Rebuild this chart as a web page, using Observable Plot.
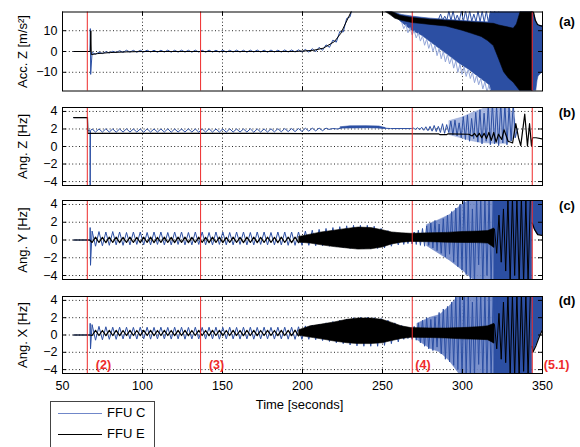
<!DOCTYPE html>
<html>
<head>
<meta charset="utf-8">
<script src="https://cdn.jsdelivr.net/npm/d3@7"></script>
<script src="https://cdn.jsdelivr.net/npm/@observablehq/plot@0.6"></script>
<style>
  body { margin: 0; background: #fff; }
  #chart { position: relative; width: 580px; height: 447px; overflow: hidden; background: #fff;
           font-family: "Liberation Sans", Arial, sans-serif; }
  #chart svg { position: absolute; left: 0; }
  .legend { position: absolute; left: 50px; top: 401px; width: 103px; height: 60px;
            border: 1px solid #444; background: #fff; font-size: 13px; }
  .legend .sw { position: absolute; left: 7px; width: 44px; height: 0; border-top: 1.2px solid; }
  .legend .lb { position: absolute; left: 56px; line-height: 14px; }
</style>
</head>
<body>
<div id="chart"></div>
<script>
// ---------- shared axes ----------
const timeTicks = [50, 100, 150, 200, 250, 300, 350];
const accTicks = [-10, 0, 10];
const angTicks = [-4, -2, 0, 2, 4];
const seriesNames = ["FFU C", "FFU E"];

// phase markers
const eventTimes = [65.5, 136.3, 268.6, 343.6];
const eventLabels = ["(2)", "(3)", "(4)", "(5.1)"];
const eventLabelTimes = [70.8, 141.5, 270.5, 350.8];

// sampling of the oscillation extrema (seconds)
const T1 = 68.5, H1 = 2.15;   // slow oscillation
const T2 = 263.3, H2 = 1.3;   // faster, growing oscillation

// ---------- (a) Acc. Z ----------
const accZ_E_line = [[57,0],[67.4,0],[67.7,10],[68,-1.5],[72,-1],[80,-0.5],[90,-0.2],[100,0],[195,0],[200,0.2],[207,0.6],[213,1.6],[220,4.8],[224,8.8],[227,13.7],[230,18.5],[232,22]];
const accZ_E_bandT  = [252,255,258,261,265,268.6,275,280,290,300,306,312,316,319.6,323,326,329,332,334,336.5,343.6];
const accZ_E_bandHi = [21,19.5,18.3,17.2,16.6,16.1,15.6,15.3,14.8,14.3,14.0,13.7,13.5,13.3,12.5,12.0,11.5,11.0,13,19.5,19.5];
const accZ_E_bandLo = [19,17.5,15.8,15.0,14.3,13.7,13.2,12.8,12.0,10,8.5,7,5,2.6,-4,-10,-13,-15,-17,-19.5,-19.5];
const accZ_E_tail = [[343.6,19.5],[344.4,18.8],[345.5,15],[346.9,13],[348.5,12.4],[350,12.2]];

const accZ_C_lead = [[57,0],[67.2,0],[67.4,11],[67.6,-11]];
const accZ_C_wave = [-0.5,-1.3,-0.3,-1.0,-0.1,-0.7,0.1,-0.5,0.4,-0.4,
  0.6,-0.3,0.55,-0.35,0.6,-0.3,0.65,-0.3,0.6,-0.35,
  0.6,-0.3,0.65,-0.35,0.6,-0.3,0.65,-0.3,0.6,-0.35,
  0.65,-0.3,0.6,-0.35,0.65,-0.3,0.6,-0.3,0.65,-0.35,
  0.6,-0.3,0.65,-0.3,0.6,-0.35,0.65,-0.3,0.7,-0.3,
  0.65,-0.35,0.7,-0.3,0.65,-0.3,0.75,-0.25,0.75,-0.25,
  0.8,-0.2,1.0,-0.3,1.35,-0.05,2.0,0.6,3.2,2.0,5.5,4.5,9.6,9.4,15.9,16.7,23.5];
const accZ_C_bandT  = [252,258,262,268.5,275,280.2,285.4,290.6,298.4,303.6,308.8,314,316.6,318,343.6];
const accZ_C_bandLo = [19.5,17,14,10,7.5,4.5,1.5,-1.5,-6,-8.5,-11.5,-14.5,-16,-19.5,-19.5];
const accZ_C_bandHi = [19.5,18.5,17.6,16.8,16.2,15.8,15.5,15.2,14.8,14.5,14.3,14.1,14.0,19.5,19.5];
const accZ_C_spikesUp = [15.5,18,15,17,15,19.5,14.8,19.5,14.8,17.5,14.7,19.5,14.6,19.5,14.5,19.5,14.5,18,14.3,19.5,14.2,19.5,14,19.5,14,19.5,13.8,19.5,13.5,19.5];
const accZ_C_spikesDown = [14,11,13,9,11.5,8,10,6.5,9,5,7.5,3,6,1.5,4.5,0,3,-2,1.5,-3.5,0,-5,-1.5,-6,-3,-8,-4.5,-10,-6,-11,-7.5,-12,-8.5,-13,-10,-15,-11.5,-16,-13,-18,-14.5,-19.5,-16,-19.5];
const accZ_C_tailT  = [343.6,344.4,346,346.9,347.5,350];
const accZ_C_tailLo = [-19.5,-19.5,-19.5,-14,-12,-10];
const accZ_C_tailHi = [19.5,18.8,14.5,13,12.5,12.2];

// ---------- (b) Ang. Z ----------
const angZ_E_line = [[57,3.3],[65.6,3.3],[65.8,1.5],[120,1.5],[200,1.48],[285,1.45],[286,1.35],[290,1.35],[291,1.45],[304,1.4],[306,1.2],[307.5,1.5],[309,1.1],[310.5,1.5],[312,1.0],[313.5,1.5],[315,0.9],[316.5,1.6],[318,0.7],[319.5,1.6],[321,0.5],[322.5,1.4],[324.5,0.8],[326,1.9],[328.5,0.6],[331.3,0.4],[333.3,2.6],[335,1.0],[336.4,0.1],[338.9,3.7],[340.6,0.05],[341.9,2.6],[343.1,0.1],[343.8,1.0],[346,1.0],[350,0.85]];
const angZ_C_lead = [[57,3.3],[65.6,3.3],[65.8,1.8],[67.2,1.8],[67.3,-4.6],[67.5,1.8]];
const angZ_C_wave = [2.0,1.65,2.0,1.65,2.02,1.65,2.0,1.63,2.0,1.65,
  2.02,1.65,2.0,1.65,2.0,1.63,2.02,1.65,2.0,1.65,
  2.0,1.65,2.02,1.63,2.0,1.65,2.0,1.65,2.02,1.65,
  2.0,1.63,2.0,1.65,2.02,1.65,2.0,1.65,2.0,1.63,
  2.02,1.65,2.0,1.65,2.0,1.65,2.02,1.63,2.0,1.65,
  2.0,1.65,2.02,1.67,2.03,1.68,2.05,1.7,2.05,1.7,
  2.05,1.72,2.08,1.75,2.1,1.78,2.1,1.8,2.1];
const angZ_C_mid = [[216.5,1.95],[219,2.05],[222,2.0],[225,2.15],[235,2.2],[245,2.2],[250,2.1],[255,2.05],[268,2.05]];
const angZ_C_midT  = [224,230,240,248,252];
const angZ_C_midLo = [2.05,2.05,2.08,2.05,2.02];
const angZ_C_midHi = [2.2,2.3,2.32,2.28,2.1];
const angZ_C_lateStart = 268;
const angZ_C_late = [2.1,1.95,2.15,1.9,2.2,1.85,2.25,1.8,2.3,1.75,2.4,1.7,2.3,1.6,2.6,1.5,2.5,1.6,2.9,1.3,3.0,1.2,2.7,1.0,3.4,0.8,3.6,0.6,3.2,0.9,3.9,0.5,4.2,0.3,3.8,0.6,4.8,0.2,5,0.3,4.6,0.1,5,0.4,4.8,0.2,4.5,0.6,5,1.0,2.0];
const angZ_C_lightT  = [292,300,306,312,320,328,333];
const angZ_C_lightLo = [1.3,0.9,0.6,0.4,0.3,0.3,1.0];
const angZ_C_lightHi = [2.9,3.3,3.8,4.2,5,5,3];

// ---------- (c) Ang. Y ----------
const angY_E_lead = [[57,0],[67,0]];
const angY_E_wave = [-0.28,0.32,-0.28,0.3,-0.3,0.32,-0.28,0.32,-0.3,0.3,
  -0.28,0.32,-0.28,0.3,-0.3,0.32,-0.28,0.32,-0.3,0.3,
  -0.28,0.32,-0.28,0.3,-0.3,0.32,-0.28,0.32,-0.3,0.3,
  -0.28,0.32,-0.28,0.3,-0.3,0.32,-0.28,0.32,-0.3,0.3,
  -0.28,0.32,-0.28,0.3,-0.3,0.32,-0.28,0.32,-0.3,0.3,
  -0.28,0.32,-0.28,0.3,-0.3,0.32,-0.28,0.32,-0.3,0.32,-0.3];
const angY_E_bandT  = [198,205,212,220,228,235,243,250,256,262,268,280,290,300,310,316,320];
const angY_E_bandHi = [0.35,0.6,0.85,1.05,1.25,1.4,1.35,1.1,0.85,0.75,0.7,0.75,0.8,0.9,0.95,1.0,1.3];
const angY_E_bandLo = [-0.3,-0.4,-0.6,-0.8,-0.95,-1.08,-1.05,-0.85,-0.5,-0.3,-0.22,-0.25,-0.3,-0.33,-0.35,-0.4,-0.9];
const angY_E_lateStart = 320, angY_E_lateStep = 1.4;
const angY_E_late = [1.2,-1.5,2.8,-2.5,3.5,-3.5,4.8,-4.8,4.8,-4.0,4.8,-4.8,4.8,-4.8,4.5,-4.8,4.8];
const angY_E_tail = [[343.6,1.9],[345,1.2],[347,0.6],[350,0.5]];

const angY_C_lead = [[57,0],[67.2,0],[67.3,1.4],[67.5,-2.85]];
const angY_C_wave = [1.0,-0.7,0.95,-0.65,0.9,-0.6,0.95,-0.55,0.9,-0.6,
  0.85,-0.55,0.9,-0.5,0.9,-0.55,0.85,-0.55,0.9,-0.5,
  0.9,-0.55,0.85,-0.55,0.9,-0.5,0.9,-0.55,0.85,-0.55,
  0.9,-0.5,0.9,-0.55,0.85,-0.55,0.9,-0.5,0.9,-0.55,
  0.85,-0.55,0.9,-0.5,0.9,-0.55,0.85,-0.55,0.9,-0.5,
  0.9,-0.55,0.85,-0.55,0.9,-0.55,0.9,-0.6,0.9,-0.6,
  0.9,-0.6,1.0,-0.6,1.1,-0.65,1.2,-0.65,1.3,-0.7,
  1.4,-0.75,1.5,-0.85,1.6,-0.95,1.65,-1.0,1.65,-1.0,
  1.65,-1.0,1.55,-0.95,1.3,-0.9,1.05,-0.7,0.85,-0.55,0.7];
const angY_C_late = [-0.5,0.7,-0.4,0.6,-0.45,0.9,-0.5,1.1,-0.6,1.3,-0.7,1.6,-0.6,1.9,-0.9,2.2,-1.2,1.8,-1.5,2.4,-1.9,2.8,-1.6,3.2,-2.5,3.6,-3.0,4.0,-3.4,4.8,-3.9,4.8,-4.8,3.5,-4.8,4.8,-2.8,4.8,-4.8,4.8,-4.0,4.8,-4.8,4.8,-4.8,4.8];
const angY_C_lightT  = [278,285,292,300,310,322];
const angY_C_lightLo = [-0.7,-1.5,-2.3,-3.4,-5,-5];
const angY_C_lightHi = [1.7,2.2,2.8,4.0,5,5];
const angY_C_fullT = [320,343.6];
const angY_C_tailT  = [343.6,345,347,350];
const angY_C_tailLo = [1.9,1.2,0.6,0.5];

// ---------- (d) Ang. X ----------
const angX_E_lead = [[57,0],[67,0]];
const angX_E_wave = [-0.06,0.54,-0.06,0.52,-0.08,0.54,-0.06,0.54,-0.08,0.52,
  -0.06,0.54,-0.06,0.52,-0.08,0.54,-0.06,0.54,-0.08,0.52,
  -0.06,0.54,-0.06,0.52,-0.08,0.54,-0.06,0.54,-0.08,0.52,
  -0.06,0.54,-0.06,0.52,-0.08,0.54,-0.06,0.54,-0.08,0.52,
  -0.06,0.54,-0.06,0.52,-0.08,0.54,-0.06,0.54,-0.08,0.52,
  -0.06,0.54,-0.06,0.52,-0.08,0.54,-0.06,0.54,-0.08,0.56,-0.1];
const angX_E_bandT  = [198,205,212,220,228,235,243,250,256,262,268,280,290,300,310,316,320];
const angX_E_bandHi = [0.55,1.0,1.2,1.45,1.75,1.9,1.9,1.75,1.4,1.0,0.8,0.75,0.75,0.8,0.9,1.0,1.3];
const angX_E_bandLo = [-0.1,-0.3,-0.5,-0.75,-0.95,-1.05,-1.05,-0.95,-0.7,-0.45,-0.33,-0.35,-0.4,-0.5,-0.55,-0.6,-1.0];
const angX_E_late = [1.2,-1.6,2.5,-2.8,3.8,-3.2,4.8,-4.8,4.6,-4.8,4.8,-4.8,4.8,-4.2,4.8,-4.8,4.8];
const angX_E_tail = [[343.6,-1.3],[344,-2.0],[346,-1.2],[348,-0.2],[350,0.6]];

const angX_C_lead = [[57,0],[67.2,0],[67.3,1.35],[67.5,-1.6]];
const angX_C_wave = [1.2,-0.6,1.0,-0.55,0.95,-0.5,0.9,-0.5,0.9,-0.45,
  0.9,-0.45,0.88,-0.47,0.9,-0.45,0.9,-0.48,0.88,-0.45,
  0.9,-0.45,0.88,-0.47,0.9,-0.45,0.9,-0.48,0.88,-0.45,
  0.9,-0.45,0.88,-0.47,0.9,-0.45,0.9,-0.48,0.88,-0.45,
  0.9,-0.45,0.88,-0.47,0.9,-0.45,0.9,-0.48,0.88,-0.45,
  0.9,-0.45,0.88,-0.47,0.9,-0.45,0.9,-0.48,0.9,-0.5,
  0.95,-0.5,1.05,-0.5,1.15,-0.55,1.25,-0.65,1.4,-0.75,
  1.55,-0.9,1.7,-1.0,1.85,-1.15,2.0,-1.25,2.05,-1.3,
  2.05,-1.3,2.0,-1.3,1.9,-1.2,1.7,-1.0,1.4,-0.8,1.1];
const angX_C_late = [-0.5,0.9,-0.4,0.8,-0.5,1.0,-0.6,1.4,-0.9,1.7,-1.3,2.0,-1.6,1.8,-1.8,2.1,-1.4,2.6,-2.2,3.0,-2.8,3.3,-3.1,3.8,-3.5,4.5,-4.0,4.8,-4.8,4.8,-4.5,4.8,-4.8,3.8,-4.8,4.8,-3.4,4.8,-4.8,4.8,-4.8,4.8,-4.8,4.8,-4.8,4.8];
const angX_C_lightT  = [272,280,286,292,300,322];
const angX_C_lightLo = [-0.6,-1.6,-2.0,-3.0,-5,-5];
const angX_C_lightHi = [1.3,2.0,2.3,3.3,5,5];
const angX_C_fullT = [320,343.6];
const angX_C_tailT  = [343.6,344,346,348,350];
const angX_C_tailLo = [-1.3,-2.0,-1.2,-0.2,0.6];

// ---------- colours ----------
const BLUE = "#2c4fa3", LIGHT = "#93a6d8", MID = "#6d85c6", BLACK = "#000", RED = "#ee2b2b", LEGEND_BLUE = "#7087c9";

// ---------- helpers turning the arrays into rows ----------
const pairs = (arr) => arr.map(([t, v]) => ({t, v}));
const wave = (vals, t0, dt) => vals.map((v, i) => ({t: t0 + i * dt, v}));
const band = (ts, lo, hi) => ts.map((t, i) => ({t, lo: lo[i], hi: Array.isArray(hi) ? hi[i] : hi}));

const line = (data, stroke, w = 1) => Plot.line(data, {x: "t", y: "v", stroke, strokeWidth: w, clip: true});
const area = (data, fill, opacity = 1) => Plot.areaY(data, {x: "t", y1: "lo", y2: "hi", fill, fillOpacity: opacity,
  stroke: fill, strokeOpacity: opacity, strokeWidth: 0.6, clip: true});

const FONT = '"Liberation Sans", Arial, sans-serif';

function panel({top, height, marginTop, marginBottom, yDomain, yTicks, yLabel, tag, tagDy, marks, bottomAxis}) {
  const plotH = height - marginTop - marginBottom;
  const tickStyle = {stroke: "#000", strokeWidth: 1};
  const extra = [];
  if (bottomAxis) {
    extra.push(
      Plot.axisX(timeTicks, {anchor: "bottom", tickSize: 0, tickPadding: 8, fontSize: 12.5, label: null}),
      Plot.text(["Time [seconds]"], {text: d => d, frameAnchor: "bottom", textAnchor: "middle", lineAnchor: "middle",
        dx: -3, dy: 31, fontSize: 13}),
      Plot.text(eventLabels, {x: (d, i) => eventLabelTimes[i], text: d => d, frameAnchor: "bottom", lineAnchor: "middle",
        dy: -9, textAnchor: "start", fill: RED, fontWeight: "bold", fontSize: 12.5})
    );
  }
  const svg = Plot.plot({
    width: 580, height, marginLeft: 62, marginRight: 38, marginTop, marginBottom,
    style: {fontFamily: FONT, fontSize: "12px", background: "transparent", overflow: "visible", color: "#000"},
    x: {domain: [50, 350], axis: null},
    y: {domain: yDomain, axis: null},
    marks: [
      Plot.gridX(timeTicks.slice(1, -1), {stroke: "#000", strokeOpacity: 0.85, strokeDasharray: "1,2.4"}),
      Plot.gridY(yTicks, {stroke: "#000", strokeOpacity: 0.85, strokeDasharray: "1,2.4"}),
      ...marks,
      Plot.ruleX(eventTimes, {stroke: RED, strokeWidth: 1}),
      Plot.tickY(yTicks, {y: d => d, insetRight: 476, ...tickStyle}),
      Plot.tickY(yTicks, {y: d => d, insetLeft: 476, ...tickStyle}),
      Plot.tickX(timeTicks, {x: d => d, insetBottom: plotH - 4, ...tickStyle}),
      Plot.tickX(timeTicks, {x: d => d, insetTop: plotH - 4, ...tickStyle}),
      Plot.frame({stroke: "#000", strokeWidth: 1}),
      Plot.axisY(yTicks, {anchor: "left", tickSize: 0, tickPadding: 5, fontSize: 12.5, label: null}),
      Plot.text([yLabel], {text: d => d, frameAnchor: "left", textAnchor: "middle", lineAnchor: "middle",
        rotate: -90, dx: -40, fontSize: 13}),
      Plot.text([tag], {text: d => d, frameAnchor: "top-right", textAnchor: "middle", lineAnchor: "middle",
        dx: 24.5, dy: tagDy, fontWeight: "bold", fontSize: 13}),
      ...extra
    ]
  });
  svg.style.top = top + "px";
  return svg;
}

const chart = document.getElementById("chart");

// (a) acceleration
chart.appendChild(panel({
  top: 0, height: 95, marginTop: 11.5, marginBottom: 4.5, yDomain: [-19, 19], yTicks: accTicks,
  yLabel: "Acc. Z [m/s²]", tag: "(a)", tagDy: 10,
  marks: [
    area(band(accZ_C_bandT, accZ_C_bandLo, accZ_C_bandHi), BLUE),
    area(band(accZ_C_tailT, accZ_C_tailLo, accZ_C_tailHi), BLUE),
    line(wave(accZ_C_spikesDown, 262, H2), LIGHT),
    line(wave(accZ_C_spikesUp, 285, H2), BLUE),
    line([...pairs(accZ_C_lead), ...wave(accZ_C_wave, T1, H1)], BLUE),
    area(band(accZ_E_bandT, accZ_E_bandLo, accZ_E_bandHi), BLACK),
    line(pairs(accZ_E_line), BLACK, 1),
    line(pairs(accZ_E_tail), BLACK, 1.3)
  ]
}));

// (b) angular rate about Z
chart.appendChild(panel({
  top: 95, height: 95, marginTop: 12, marginBottom: 5, yDomain: [-4.45, 4.45], yTicks: angTicks,
  yLabel: "Ang. Z [Hz]", tag: "(b)", tagDy: 5,
  marks: [
    area(band(angZ_C_lightT, angZ_C_lightLo, angZ_C_lightHi), LIGHT, 0.8),
    area(band(angZ_C_midT, angZ_C_midLo, angZ_C_midHi), BLUE),
    line([...pairs(angZ_C_lead), ...wave(angZ_C_wave, T1, H1), ...pairs(angZ_C_mid),
          ...wave(angZ_C_late, angZ_C_lateStart + H2, H2)], BLUE),
    line(pairs(angZ_E_line), BLACK, 1.2)
  ]
}));

// (c) angular rate about Y
chart.appendChild(panel({
  top: 190, height: 95, marginTop: 10, marginBottom: 6, yDomain: [-4.45, 4.45], yTicks: angTicks,
  yLabel: "Ang. Y [Hz]", tag: "(c)", tagDy: 5,
  marks: [
    area(band(angY_C_lightT, angY_C_lightLo, angY_C_lightHi), MID, 0.9),
    area(band(angY_C_fullT, [-5, -5], [5, 5]), BLUE),
    area(band(angY_C_tailT, angY_C_tailLo, 5), BLUE),
    line([...pairs(angY_C_lead), ...wave(angY_C_wave, T1, H1), ...wave(angY_C_late, T2, H2)], BLUE),
    area(band(angY_E_bandT, angY_E_bandLo, angY_E_bandHi), BLACK),
    line([...pairs(angY_E_lead), ...wave(angY_E_wave, T1, H1)], BLACK, 1.2),
    line(wave(angY_E_late, angY_E_lateStart, angY_E_lateStep), BLACK, 1),
    line(pairs(angY_E_tail), BLACK, 1.2)
  ]
}));

// (d) angular rate about X
chart.appendChild(panel({
  top: 285, height: 162, marginTop: 11, marginBottom: 74, yDomain: [-4.45, 4.45], yTicks: angTicks,
  yLabel: "Ang. X [Hz]", tag: "(d)", tagDy: 4, bottomAxis: true,
  marks: [
    area(band(angX_C_lightT, angX_C_lightLo, angX_C_lightHi), MID, 0.9),
    area(band(angX_C_fullT, [-5, -5], [5, 5]), BLUE),
    area(band(angX_C_tailT, angX_C_tailLo, 5), BLUE),
    line([...pairs(angX_C_lead), ...wave(angX_C_wave, T1, H1), ...wave(angX_C_late, T2, H2)], BLUE),
    area(band(angX_E_bandT, angX_E_bandLo, angX_E_bandHi), BLACK),
    line([...pairs(angX_E_lead), ...wave(angX_E_wave, T1, H1)], BLACK, 1.2),
    line(wave(angX_E_late, angY_E_lateStart, angY_E_lateStep), BLACK, 1),
    line(pairs(angX_E_tail), BLACK, 1.2)
  ]
}));

// legend
const legend = document.createElement("div");
legend.className = "legend";
[LEGEND_BLUE, BLACK].forEach((c, i) => {
  const sw = document.createElement("span");
  sw.className = "sw"; sw.style.borderColor = c; sw.style.top = (11 + i * 21) + "px";
  const lb = document.createElement("span");
  lb.className = "lb"; lb.textContent = seriesNames[i]; lb.style.top = (4 + i * 21) + "px";
  legend.appendChild(sw); legend.appendChild(lb);
});
chart.appendChild(legend);
</script>
</body>
</html>
